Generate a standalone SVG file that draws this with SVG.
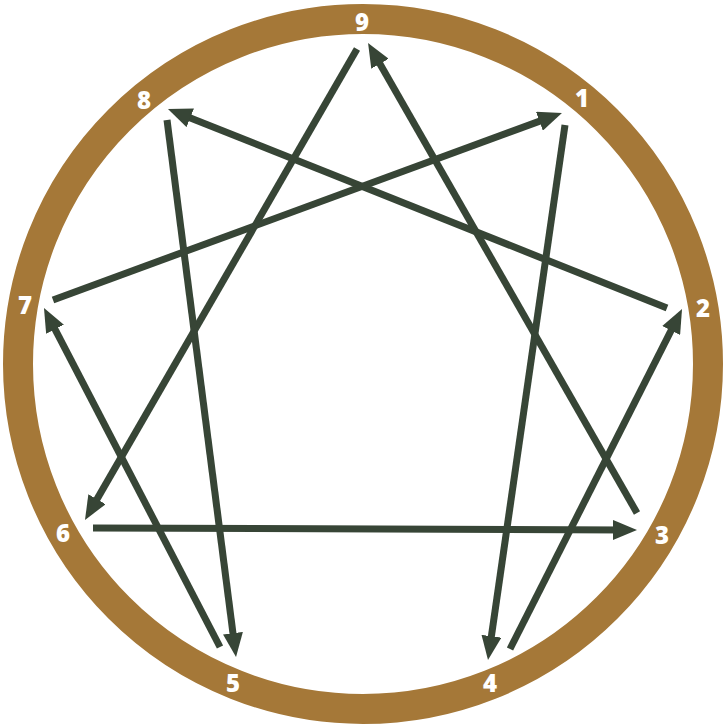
<svg xmlns="http://www.w3.org/2000/svg" width="727" height="728" viewBox="0 0 727 728">
<defs>
<style>
.ring{fill:none;stroke:#A57838;stroke-width:30}
.edge{stroke:#374536;stroke-width:7;fill:none;marker-end:url(#arrow)}
.lbl{font-family:"Open Sans","Liberation Sans",sans-serif;font-weight:800;font-size:24px;fill:#ffffff;text-anchor:middle}
</style>
<marker id="arrow" viewBox="0 0 24 20" refX="12" refY="10" markerWidth="24" markerHeight="20" markerUnits="userSpaceOnUse" orient="auto">
<path d="M0,0 L24,10 L0,20 z" fill="#374536"/>
</marker>
</defs>
<rect width="727" height="728" fill="#ffffff"/>
<circle class="ring" cx="363" cy="364" r="345"/>
<g id="connectors">
<line class="edge" x1="357" y1="49" x2="91" y2="509.6"/>
<line class="edge" x1="637" y1="513" x2="374" y2="53.4"/>
<line class="edge" x1="667" y1="308" x2="179.1" y2="113.4"/>
<line class="edge" x1="53" y1="300" x2="550.7" y2="117.1"/>
<line class="edge" x1="167" y1="120" x2="234.5" y2="645.1"/>
<line class="edge" x1="565" y1="125" x2="489.7" y2="648.1"/>
<line class="edge" x1="510" y1="649" x2="676.6" y2="319.7"/>
<line class="edge" x1="220" y1="647" x2="49.5" y2="318.6"/>
<line class="edge" x1="93" y1="528" x2="625" y2="530"/>
</g>
<g id="n9"><text class="lbl" x="362" y="30.5">9</text></g>
<g id="n1"><text class="lbl" x="582" y="106.5">1</text></g>
<g id="n2"><text class="lbl" x="703" y="316.5">2</text></g>
<g id="n3"><text class="lbl" x="662" y="543.5">3</text></g>
<g id="n4"><text class="lbl" x="490" y="691.5">4</text></g>
<g id="n5"><text class="lbl" x="233" y="691.5">5</text></g>
<g id="n6"><text class="lbl" x="63" y="541.5">6</text></g>
<g id="n7"><text class="lbl" x="25" y="313.5">7</text></g>
<g id="n8"><text class="lbl" x="144" y="108.5">8</text></g>
</svg>
